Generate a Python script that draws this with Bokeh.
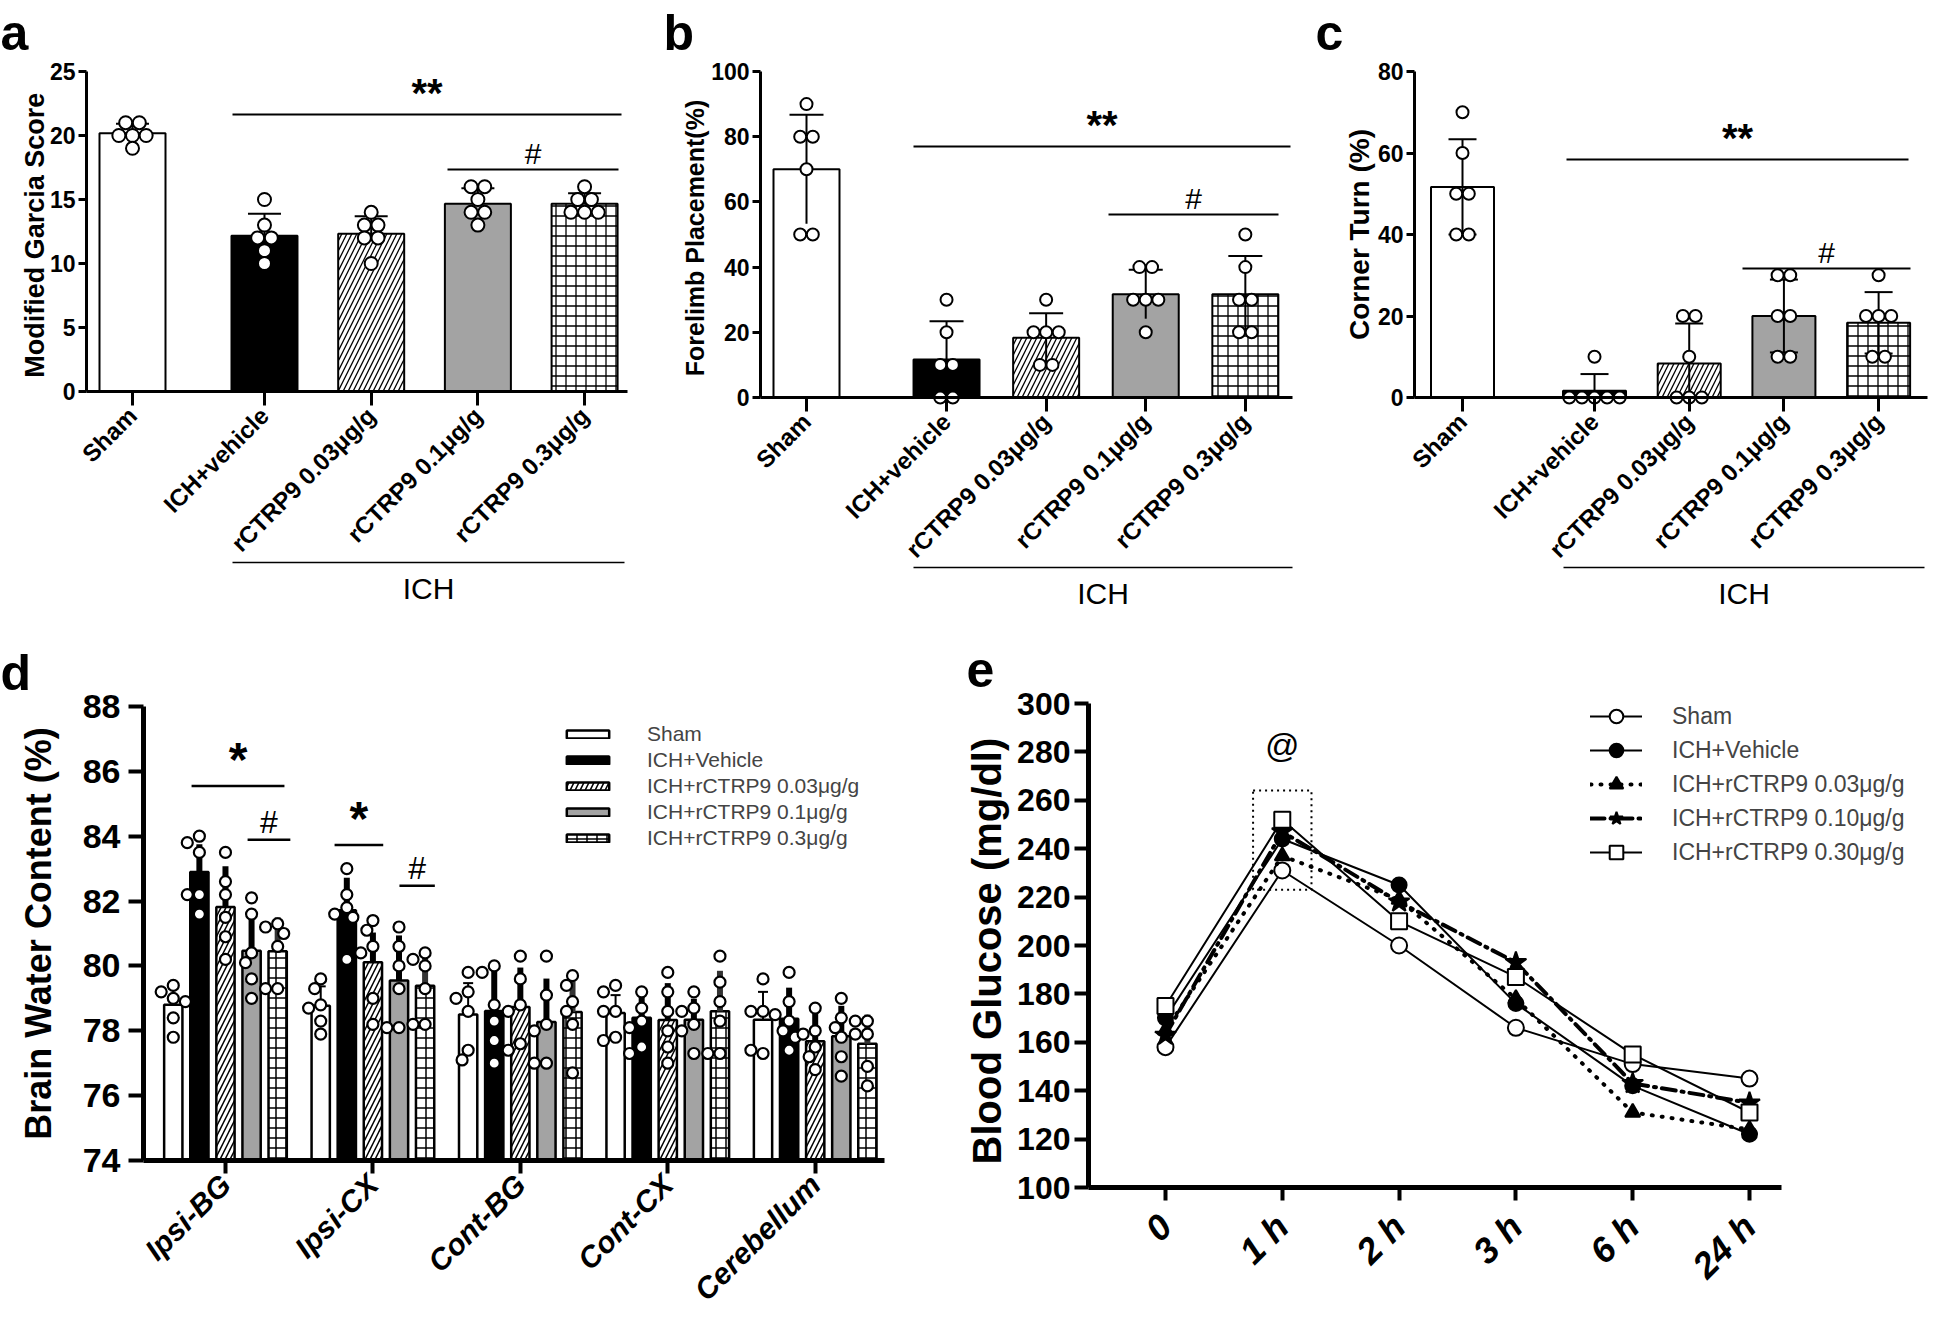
import math
from collections import Counter
from bokeh.plotting import figure
from bokeh.layouts import column, row
from bokeh.models import (Range1d, FixedTicker, CustomJSTickFormatter, Legend, LegendItem)
from bokeh.embed import file_html
from bokeh.resources import INLINE
from bokeh.core.properties import value

FONT = "Liberation Sans"

# ---------------- data ----------------
groups = ["Sham", "ICH+vehicle", "rCTRP9 0.03μg/g", "rCTRP9 0.1μg/g", "rCTRP9 0.3μg/g"]

garcia_points = [[21, 21, 20, 20, 20, 19], [15, 13, 12, 12, 11, 10], [14, 13, 13, 12, 12, 10],
                 [16, 16, 15, 14, 14, 13], [16, 15, 15, 14, 14, 14]]
garcia_mean = [20.17, 12.17, 12.33, 14.67, 14.67]
garcia_sd = [0.75, 1.72, 1.37, 1.21, 0.82]

forelimb_points = [[90, 80, 80, 70, 50, 50], [30, 20, 10, 10, 0, 0], [30, 20, 20, 20, 10, 10],
                   [40, 40, 30, 30, 30, 20], [50, 40, 30, 30, 20, 20]]
forelimb_mean = [70.0, 11.67, 18.33, 31.67, 31.67]
forelimb_sd = [16.7, 11.7, 7.5, 7.5, 11.7]

corner_points = [[70, 60, 50, 50, 40, 40], [10, 0, 0, 0, 0, 0], [20, 20, 10, 0, 0, 0],
                 [30, 30, 20, 20, 10, 10], [30, 20, 20, 20, 10, 10]]
corner_mean = [51.67, 1.67, 8.33, 20.0, 18.33]
corner_sd = [11.69, 4.08, 9.83, 8.94, 7.53]

regions = ["Ipsi-BG", "Ipsi-CX", "Cont-BG", "Cont-CX", "Cerebellum"]
bwc_series = ["Sham", "ICH+Vehicle", "ICH+rCTRP9 0.03μg/g", "ICH+rCTRP9 0.1μg/g", "ICH+rCTRP9 0.3μg/g"]
bwc_mean_sham = [78.80, 78.77, 78.50, 78.55, 78.34]
bwc_mean_vehicle = [82.90, 81.72, 78.61, 78.40, 78.37]
bwc_mean_003 = [81.82, 80.11, 78.73, 78.33, 77.68]
bwc_mean_01 = [80.47, 79.55, 78.27, 78.34, 77.83]
bwc_mean_03 = [80.45, 79.39, 78.58, 78.60, 77.60]
bwc_sd_sham = [0.50, 0.60, 0.97, 0.55, 0.86]
bwc_sd_vehicle = [0.85, 1.00, 1.45, 0.70, 0.96]
bwc_sd_003 = [1.25, 0.92, 1.22, 1.14, 1.09]
bwc_sd_01 = [1.20, 1.39, 1.34, 0.65, 0.94]
bwc_sd_03 = [1.05, 0.94, 0.94, 1.25, 0.90]
bwc_pts_sham = [[79.4, 79.2, 79.0, 78.9, 78.4, 77.8], [79.6, 79.3, 78.8, 78.7, 78.3, 77.9],
                [79.8, 79.2, 79.0, 78.6, 77.4, 77.1], [79.4, 79.2, 78.6, 78.6, 77.8, 77.7],
                [79.6, 78.6, 78.6, 78.5, 77.3, 77.4]]
bwc_pts_vehicle = [[84.0, 83.8, 83.5, 82.2, 82.2, 81.6], [83.0, 82.2, 81.8, 81.6, 81.5, 80.2],
                   [80.0, 79.8, 78.8, 78.3, 77.7, 77.0], [79.2, 78.7, 78.3, 78.1, 77.5, 77.3],
                   [79.8, 78.9, 78.3, 78.0, 77.8, 77.4]]
bwc_pts_003 = [[83.5, 82.6, 82.2, 81.5, 80.9, 80.2], [81.4, 81.1, 80.6, 80.4, 79.0, 78.2],
               [80.3, 79.6, 78.8, 78.6, 77.6, 77.4], [79.8, 79.2, 78.6, 78.0, 77.5, 77.0],
               [78.7, 78.0, 77.9, 77.5, 77.2, 76.8]]
bwc_pts_01 = [[82.1, 81.6, 80.4, 80.1, 79.6, 79.0], [81.2, 80.6, 80.0, 79.3, 78.1, 78.1],
              [80.3, 79.1, 78.2, 78.0, 77.0, 77.0], [79.2, 78.7, 78.6, 78.2, 78.0, 77.3],
              [79.0, 78.4, 78.1, 77.8, 77.2, 76.6]]
bwc_pts_03 = [[81.3, 81.2, 81.0, 80.6, 79.3, 79.3], [80.4, 80.2, 80.0, 79.3, 78.2, 78.2],
              [79.7, 79.4, 78.9, 78.6, 78.2, 76.7], [80.3, 79.5, 78.9, 78.3, 77.3, 77.3],
              [78.3, 78.3, 77.9, 77.9, 76.9, 76.3]]

times = ["0", "1 h", "2 h", "3 h", "6 h", "24 h"]
glu_series = ["Sham", "ICH+Vehicle", "ICH+rCTRP9 0.03μg/g", "ICH+rCTRP9 0.10μg/g", "ICH+rCTRP9 0.30μg/g"]
glu_sham = [158, 231, 200, 166, 151, 145]
glu_vehicle = [170, 244, 225, 176, 142, 122]
glu_003 = [165, 237, 219, 178, 131, 124]
glu_010 = [163, 247, 218, 193, 143, 135]
glu_030 = [175, 252, 210, 187, 155, 131]

# ---------------- styles ----------------
BAR_FILL = ["white", "black", "white", "#a3a3a3", "white"]
BAR_HATCH = [" ", " ", "/", " ", "+"]


class Panel:
    """Figure whose frame fills the canvas; the data box (dx, dy) is mapped onto the
    image rectangle (ix, iy) and the axes sit at fixed locations on its edges."""

    def __init__(self, ox, oy, w, h, dx, ix, dy, iy):
        self.ox, self.oy, self.w, self.h = ox, oy, w, h
        (self.dx0, self.dx1), (self.ix0, self.ix1) = dx, ix
        (self.dy0, self.dy1), (self.iy0, self.iy1) = dy, iy
        self.ux = (self.dx1 - self.dx0) / (self.ix1 - self.ix0)
        self.uy = (self.dy1 - self.dy0) / (self.iy0 - self.iy1)
        xr = Range1d(self.X(ox), self.X(ox + w))
        yr = Range1d(self.Y(oy + h), self.Y(oy))
        p = figure(width=w, height=h, x_range=xr, y_range=yr, output_backend="svg",
                   toolbar_location=None, min_border=0)
        p.outline_line_color = None
        p.xgrid.visible = False
        p.ygrid.visible = False
        p.background_fill_color = "white"
        p.border_fill_color = "white"
        p.xaxis[0].fixed_location = self.dy0
        p.xaxis[0].bounds = (self.dx0, self.dx1)
        p.yaxis[0].fixed_location = self.dx0
        p.yaxis[0].bounds = (self.dy0, self.dy1)
        self.p = p

    def X(self, ix):
        return self.dx0 + (ix - self.ix0) * self.ux

    def Y(self, iy):
        return self.dy0 + (self.iy0 - iy) * self.uy

    @property
    def xs_px(self):
        return 1.0 / self.ux

    @property
    def ys_px(self):
        return 1.0 / self.uy

    def text(self, ix, iy, txt, size, style="bold", align="left", baseline="alphabetic"):
        self.p.text(x=[self.X(ix)], y=[self.Y(iy)], text=[txt], text_font=value(FONT),
                    text_font_size=f"{size}px", text_font_style=style, text_color="black",
                    text_align=align, text_baseline=baseline)

    def ytitle(self, ix, txt, size):
        self.p.text(x=[self.X(ix)], y=[(self.dy0 + self.dy1) / 2], text=[txt], text_font=value(FONT),
                    text_font_size=f"{size}px", text_font_style="bold", text_color="black",
                    text_align="center", text_baseline="middle", angle=math.pi / 2)

    def hline(self, iy, ix0, ix1, width):
        yv = self.Y(iy)
        self.p.segment(x0=[self.X(ix0)], y0=[yv], x1=[self.X(ix1)], y1=[yv],
                       line_color="black", line_width=width)

    def legend_loc(self, ix_left, iy_bottom):
        return (ix_left - self.ox, (self.oy + self.h) - iy_bottom)


def style_axis(ax, line_w, tick_out, tick_w, standoff, font_size, style):
    ax.axis_line_width = line_w
    ax.axis_line_color = "black"
    ax.major_tick_out = tick_out
    ax.major_tick_in = 0
    ax.major_tick_line_width = tick_w
    ax.major_tick_line_color = "black"
    ax.minor_tick_line_color = None
    ax.major_label_standoff = standoff
    ax.major_label_text_font = FONT
    ax.major_label_text_font_size = f"{font_size}px"
    ax.major_label_text_font_style = style
    ax.major_label_text_color = "black"
    ax.axis_label = None


def cat_axis(ax, labels, pos):
    ax.ticker = FixedTicker(ticks=list(pos))
    ax.formatter = CustomJSTickFormatter(
        args=dict(labels=labels, pos=list(pos)),
        code="let i = 0, b = 1e9; for (let k = 0; k < pos.length; k++) {"
             " const d = Math.abs(pos[k] - tick); if (d < b) { b = d; i = k; } }"
             " return labels[i];")
    ax.major_label_orientation = math.pi / 4


def row_offsets(vals, d_px, xs_px):
    cnt = Counter(vals)
    seen = Counter()
    out = []
    for v in vals:
        n = cnt[v]
        i = seen[v]
        seen[v] += 1
        out.append((i - (n - 1) / 2) * d_px / xs_px)
    return out


def swarm_offsets(vals, d_px, xs_px, ys_px):
    placed, out = [], []
    cands = [0.0] + [s * j * d_px * 0.55 for j in range(1, 10) for s in (-1, 1)]
    for v in vals:
        y = v * ys_px
        for dx in cands:
            if all((dx - a) ** 2 + (y - b) ** 2 >= (0.9 * d_px) ** 2 for a, b in placed):
                break
        placed.append((dx, y))
        out.append(dx / xs_px)
    return out


def sig_marks(P, sig, line_w, star_size, hash_size):
    # sig: (image y of the bar, image x start, image x end, text)
    for (iy, ix0, ix1, txt) in sig:
        P.hline(iy, ix0, ix1, line_w)
        star = "*" in txt
        P.p.text(x=[(P.X(ix0) + P.X(ix1)) / 2], y=[P.Y(iy)], text=[txt], text_font=value(FONT),
                 text_font_size=f"{star_size if star else hash_size}px",
                 text_font_style="bold" if star else "normal", text_align="center",
                 text_baseline="bottom", text_color="black")


def top_panel(ox, w, sham_x, spacing, gap, ix, iy, ymax, yticks, ylabel, ylabel_size, title_x,
              means, sds, points, two_sided, lower_cap, cap_px, dot_px, bar_px, letter, letter_xy,
              sig, ich, ich_iy):
    dx = ((ix[0] - sham_x) / spacing, (ix[1] - sham_x) / spacing)
    P = Panel(ox, 8, w, 632, dx, ix, (0, ymax), iy)
    p = P.p
    pos = [0.0] + [k + gap for k in range(1, len(means))]
    bar_w = bar_px / P.xs_px
    for i, x in enumerate(pos):
        p.vbar(x=[x], top=[means[i]], bottom=0, width=bar_w, fill_color=BAR_FILL[i],
               line_color="black", line_width=2, hatch_pattern=BAR_HATCH[i],
               hatch_color="black", hatch_scale=10, hatch_weight=1.3)
    hi = [m + s for m, s in zip(means, sds)]
    lo = [m - s if two_sided else m for m, s in zip(means, sds)]
    p.segment(x0=pos, y0=lo, x1=pos, y1=hi, line_color="black", line_width=2)
    half = cap_px / P.xs_px / 2
    p.segment(x0=[x - half for x in pos], y0=hi, x1=[x + half for x in pos], y1=hi,
              line_color="black", line_width=2)
    if lower_cap:
        li = [i for i in range(len(pos)) if lo[i] > 0]
        p.segment(x0=[pos[i] - half for i in li], y0=[lo[i] for i in li],
                  x1=[pos[i] + half for i in li], y1=[lo[i] for i in li],
                  line_color="black", line_width=2)
    px, py = [], []
    for i, vals in enumerate(points):
        offs = row_offsets(vals, dot_px * 1.05, P.xs_px)
        px += [pos[i] + o for o in offs]
        py += vals
    p.scatter(x=px, y=py, size=dot_px, marker="circle", fill_color="white",
              line_color="black", line_width=2)
    sig_marks(P, sig, 2, 40, 30)

    ya = p.yaxis[0]
    ya.ticker = FixedTicker(ticks=yticks)
    style_axis(ya, 3, 8, 3, 3, 23, "bold")
    xa = p.xaxis[0]
    style_axis(xa, 3, 14, 3, 6, 24, "bold")
    cat_axis(xa, groups, pos)
    P.ytitle(title_x, ylabel, ylabel_size)

    P.hline(ich_iy, ich[0], ich[1], 1.6)
    P.text((ich[0] + ich[1]) / 2, ich_iy + 26, "ICH", 30, style="normal", align="center",
           baseline="middle")
    P.text(letter_xy[0], letter_xy[1], letter, 50)
    return p


pa = top_panel(8, 642, 140, 106.7, 0.237, (94, 635), (399, 79), 25, [0, 5, 10, 15, 20, 25],
               "Modified Garcia  Score", 27, 42, garcia_mean, garcia_sd, garcia_points,
               False, False, 33, 13, 66, "a", (8, 40),
               [(122, 240, 629, "**"), (177, 455, 626, "#")], (240, 632), 570)

pb = top_panel(650, 660, 814, 99.6, 0.406, (768, 1300), (405, 79), 100, [0, 20, 40, 60, 80, 100],
               "Forelimb  Placement(%)", 25, 702, forelimb_mean, forelimb_sd, forelimb_points,
               True, False, 34, 12, 66, "b", (671, 40),
               [(154, 921, 1298, "**"), (222, 1116, 1286, "#")], (921, 1300), 575)

pc = top_panel(1310, 628, 1470, 94.7, 0.394, (1422, 1935), (405, 79), 80, [0, 20, 40, 60, 80],
               "Corner Turn (%)", 28, 1367, corner_mean, corner_sd, corner_points,
               True, True, 28, 12, 63, "c", (1323, 40),
               [(167, 1574, 1916, "**"), (276, 1750, 1918, "#")], (1571, 1932), 575)

# ---------------- panel d ----------------
PD = Panel(8, 640, 937, 679, (-0.556, 4.47), (151, 892), (74, 88), (1168, 714))
pd_ = PD.p
bar_step, bar_w = 0.177, 0.124
means_d = [bwc_mean_sham, bwc_mean_vehicle, bwc_mean_003, bwc_mean_01, bwc_mean_03]
sds_d = [bwc_sd_sham, bwc_sd_vehicle, bwc_sd_003, bwc_sd_01, bwc_sd_03]
pts_d = [bwc_pts_sham, bwc_pts_vehicle, bwc_pts_003, bwc_pts_01, bwc_pts_03]
d_items = []
for k in range(5):
    xs = [g + (k - 2) * bar_step for g in range(len(regions))]
    r = pd_.vbar(x=xs, top=means_d[k], bottom=74, width=bar_w, fill_color=BAR_FILL[k],
                 line_color="black", line_width=2.5, hatch_pattern=BAR_HATCH[k],
                 hatch_color="black", hatch_scale=10, hatch_weight=1.5)
    d_items.append(LegendItem(label=bwc_series[k], renderers=[r]))
for k in range(5):
    xs = [g + (k - 2) * bar_step for g in range(len(regions))]
    hi = [m + s for m, s in zip(means_d[k], sds_d[k])]
    if k == 0:
        pd_.segment(x0=xs, y0=means_d[k], x1=xs, y1=hi, line_color="black", line_width=2)
        half = 10 / PD.xs_px / 2
        pd_.segment(x0=[x - half for x in xs], y0=hi, x1=[x + half for x in xs], y1=hi,
                    line_color="black", line_width=2)
    else:
        pd_.segment(x0=xs, y0=means_d[k], x1=xs, y1=hi,
                    line_color="black" if k < 4 else "#333333", line_width=6)
dpx, dpy = [], []
for k in range(5):
    for g in range(len(regions)):
        vals = pts_d[k][g]
        offs = swarm_offsets(vals, 11, PD.xs_px, PD.ys_px)
        dpx += [g + (k - 2) * bar_step + o for o in offs]
        dpy += vals
pd_.scatter(x=dpx, y=dpy, size=11, marker="circle", fill_color="white", line_color="black",
            line_width=2.2)


def d_iy(v):
    return PD.iy0 - (v - 74) * PD.ys_px


def d_ix(xv):
    return PD.ix0 + (xv - PD.dx0) * PD.xs_px


sig_marks(PD, [(d_iy(85.55), d_ix(-0.23), d_ix(0.40), "*"),
               (d_iy(83.89), d_ix(0.15), d_ix(0.44), "#"),
               (d_iy(83.73), d_ix(0.74), d_ix(1.07), "*"),
               (d_iy(82.47), d_ix(1.18), d_ix(1.42), "#")], 2.5, 48, 32)
ya = pd_.yaxis[0]
ya.ticker = FixedTicker(ticks=[74, 76, 78, 80, 82, 84, 86, 88])
style_axis(ya, 5, 15, 4, 8, 34, "bold")
xa = pd_.xaxis[0]
style_axis(xa, 5, 13, 4, 6, 30, "bold italic")
cat_axis(xa, regions, range(len(regions)))
PD.ytitle(46, "Brain Water Content (%)", 36)
leg_d = Legend(items=d_items, location=PD.legend_loc(569, 858), label_text_font=FONT,
               label_text_font_size="21px", glyph_width=53, glyph_height=10, label_standoff=33,
               spacing=2, padding=0, margin=0, border_line_alpha=0, background_fill_alpha=0,
               label_height=24)
pd_.add_layout(leg_d)
PD.text(8, 680, "d", 50)

# ---------------- panel e ----------------
PE = Panel(945, 640, 993, 679, (-0.659, 5.274), (1096, 1789), (100, 300), (1195, 711))
pe = PE.p
glu = [glu_sham, glu_vehicle, glu_003, glu_010, glu_030]
e_styles = [
    dict(dash="solid", lw=2, marker="circle", fill="white", size=16),
    dict(dash="solid", lw=2, marker="circle", fill="black", size=15),
    dict(dash="1 9", lw=4, marker="triangle", fill="black", size=15),
    dict(dash="14 6 2 6", lw=4, marker="star", fill="black", size=22),
    dict(dash="solid", lw=2, marker="square", fill="white", size=16),
]
tx = list(range(len(times)))
e_items = []
for k in range(5):
    st = e_styles[k]
    lr = pe.line(x=tx, y=glu[k], line_color="black", line_width=st["lw"], line_dash=st["dash"],
                 line_cap="round")
    sr = pe.scatter(x=tx, y=glu[k], marker=st["marker"], size=st["size"], fill_color=st["fill"],
                    line_color="black", line_width=2)
    e_items.append(LegendItem(label=glu_series[k], renderers=[lr, sr]))
one_h = [s[1] for s in glu]
box_lo, box_hi = min(one_h) - 8, max(one_h) + 12
pe.quad(left=[1 - 0.25], right=[1 + 0.25], bottom=[box_lo], top=[box_hi], fill_alpha=0,
        line_color="black", line_width=2, line_dash="2 4")
pe.text(x=[1], y=[box_hi + 19], text=["@"], text_font=value(FONT), text_font_size="34px",
        text_align="center", text_baseline="middle", text_color="black")
ya = pe.yaxis[0]
ya.ticker = FixedTicker(ticks=list(range(100, 301, 20)))
style_axis(ya, 5, 14, 4, 4, 32, "bold")
xa = pe.xaxis[0]
style_axis(xa, 5, 13, 4, 20, 36, "bold italic")
cat_axis(xa, times, tx)
PE.ytitle(994, "Blood Glucose  (mg/dl)", 40)
leg_e = Legend(items=e_items, location=PE.legend_loc(1598, 877), label_text_font=FONT,
               label_text_font_size="23px", glyph_width=52, glyph_height=34, label_standoff=30,
               spacing=0, padding=0, margin=0, border_line_alpha=0, background_fill_alpha=0)
pe.add_layout(leg_e)
PE.text(974, 677, "e", 50)

layout = column(row(pa, pb, pc), row(pd_, pe))
open("out.html", "w").write(file_html(layout, INLINE))
